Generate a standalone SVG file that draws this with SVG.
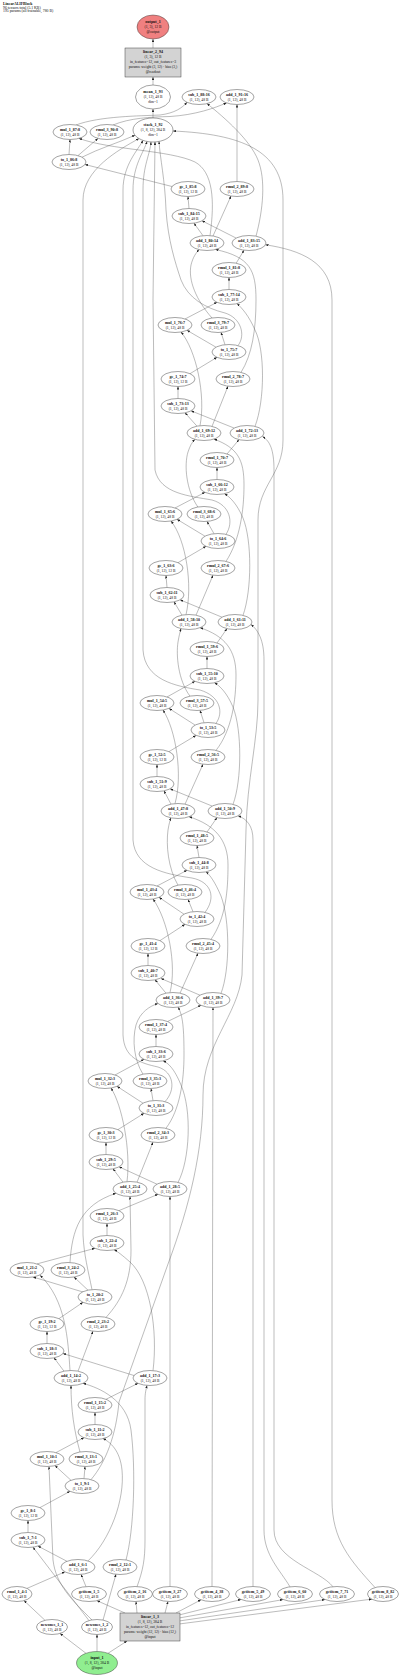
<svg xmlns="http://www.w3.org/2000/svg" width="400" height="1677" viewBox="0 0 400 1677">
<defs>
<marker id="ah" markerUnits="userSpaceOnUse" markerWidth="3.2" markerHeight="2.4" refX="3" refY="1.2" orient="auto"><path d="M0,0 L3,1.2 L0,2.4 z" fill="#222"/></marker>
<style>
.n ellipse{fill:#fff;stroke:#333;stroke-width:0.45}
.n rect{fill:#d3d3d3;stroke:#333;stroke-width:0.45}
text{font-family:"Liberation Serif","Times New Roman",serif;font-size:4px;text-anchor:middle;fill:#111}
.b{font-weight:bold}
.s{font-size:3.7px}
.t{text-anchor:start;font-size:3.8px}
#edges path{fill:none;stroke:#555;stroke-width:0.4;marker-end:url(#ah)}
</style>
</defs>
<rect width="400" height="1677" fill="#fff"/>
<g id="header">
<text x="3" y="4.6" class="t b">LinearALIFBlock</text>
<text x="3" y="8.6" class="t">96 tensors total (5.1 KB)</text>
<text x="3" y="12.4" class="t">195 params (all trainable, 780 B)</text>
</g>
<g id="edges">
<path d="M153,48 L153,39"/>
<path d="M153,85 L153,77"/>
<path d="M153,118 L153,109"/>
<path d="M229,289.5 L229,277.5"/>
<path d="M236,263.5 L244,250.2"/>
<path d="M375,1587.5 C350,1560 332,1540 332,1500 L332,300 C332,262 300,250 265.5,244.8"/>
<path d="M236,238 L202,220.8"/>
<path d="M203,235.7 L194,223.2"/>
<path d="M189,208.5 L188,196.5"/>
<path d="M172,186.5 L85,164.5"/>
<path d="M69,154.5 L70,139.5"/>
<path d="M78,155.6 L98,138.4"/>
<path d="M210,235.7 C215,200 213,172 195,162 C170,150 110,150 79,138.4"/>
<path d="M76,125 C100,116 140,116 160,115 C175,113 182,108 187,102.3"/>
<path d="M256,236.2 C263,210 266,180 258,160 C250,140 225,118 207,103.6"/>
<path d="M213,236 L231,196"/>
<path d="M237,181.5 L237,104.5"/>
<path d="M113,125 C130,118 150,117 170,116.5 C195,115 215,108 226.5,102.9"/>
<path d="M82,157.2 C100,148 118,143 135,135.2"/>
<path d="M217,479.5 L217,467.5"/>
<path d="M227,454 L239,439.6"/>
<path d="M333,1586.8 C320,1570 274,1560 274,1530 L274,470 C274,450 270,441 262.5,436.5"/>
<path d="M234,428 L191,410.8"/>
<path d="M197,426.2 L185,412.8"/>
<path d="M178,398.5 L178,386.5"/>
<path d="M190,373.7 L217,357.3"/>
<path d="M216,347.2 L187,330.3"/>
<path d="M225,344.7 L221,332.4"/>
<path d="M200,425.7 C206,395 196,350 181,332"/>
<path d="M185,319 L217,302.3"/>
<path d="M255,426.4 C265,400 265,350 255,330 C249,316 242,308 237,303.6"/>
<path d="M212,426.4 L228,386.2"/>
<path d="M241,372.4 C252,355 256,330 256,300 C256,270 250,257 215.5,249.5"/>
<path d="M212,318 C196,300 188,280 191,265 C193,257 196,253 199,249.6"/>
<path d="M238,345.6 C246,335 241,318 225,313 C205,308 188,298 181,280 C175,262 168,240 166,210 C165,180 160,158 159,141.4"/>
<path d="M207,668.5 L207,656.5"/>
<path d="M217,643 L227,628.6"/>
<path d="M290,1586.8 C280,1570 264,1555 264,1530 L264,660 C264,640 258,630 251,624.5"/>
<path d="M222,617.2 L180,599.8"/>
<path d="M182,615.2 L174,601.8"/>
<path d="M167,587.5 L166,575.5"/>
<path d="M178,562.7 L206,546.3"/>
<path d="M205,536.2 L177,519.3"/>
<path d="M214,533.7 L207,521.4"/>
<path d="M186,614.7 C193,585 186,540 171,521"/>
<path d="M175,508 L205,492.3"/>
<path d="M243,615.4 C252,590 252,540 243,518 C237,504 230,497 224.5,493.7"/>
<path d="M196,615.2 L213,575.2"/>
<path d="M226,561.4 C240,540 244,510 244,485 C244,460 238,448 214,439.1"/>
<path d="M198,507.2 C186,490 184,465 188,452 C190,446 192,442 195,439.4"/>
<path d="M226,534.4 C234,522 230,505 212,500 C190,496 160,494 155,470 L153,300 L155,141.9"/>
<path d="M199,857.5 L197,845.5"/>
<path d="M207,832 L217,817.6"/>
<path d="M253,1586.5 L253,840 C253,826 247,819 238,815.8"/>
<path d="M212,806 L170,788.8"/>
<path d="M171,804.2 L164,790.8"/>
<path d="M157,776.5 L157,764.5"/>
<path d="M169,751.6 L196,735.4"/>
<path d="M195,725 L169,708.4"/>
<path d="M204,722.7 L200,710.4"/>
<path d="M175,803.6 C183,775 176,730 163,710"/>
<path d="M167,697 L195,681.3"/>
<path d="M233,804.4 C242,780 242,730 233,707 C227,693 220,686 214.5,682.7"/>
<path d="M185,804.2 L203,764.2"/>
<path d="M216,750.4 C232,730 236,700 236,675 C236,650 225,636 200,627.7"/>
<path d="M190,696.2 C178,680 176,655 178,642 C179,636 180,632 181,628.6"/>
<path d="M216,723.4 C224,712 220,696 200,690 C175,686 145,680 143,650 L143,190 C143,165 150,155 151,141.9"/>
<path d="M156,1046.5 L156,1034.5"/>
<path d="M168,1021.3 L201,1005.3"/>
<path d="M212,1586.5 L213,1007.5"/>
<path d="M200,995.2 L161,978.5"/>
<path d="M166,993.2 L155,979.8"/>
<path d="M148,965.5 L148,953.5"/>
<path d="M160,940.6 L185,924.3"/>
<path d="M184,914.2 L159,897.3"/>
<path d="M193,911.7 L188,899.4"/>
<path d="M170,992.5 C177,965 168,920 153,899"/>
<path d="M157,886 L187,870.3"/>
<path d="M221,993.4 C230,970 230,920 221,896 C215,882 210,875 206,871.8"/>
<path d="M180,993.2 L198,953.2"/>
<path d="M211,939.4 C226,918 228,890 228,865 C228,840 215,825 189,816.7"/>
<path d="M178,885.2 C168,868 166,845 168,830 C169,824 170,820 171,817.8"/>
<path d="M205,912.4 C216,898 212,882 192,878 C165,874 135,868 133,840 L133,190 C133,165 144,152 147,141.4"/>
<path d="M107,1235.5 L107,1223.5"/>
<path d="M119,1210.6 L158,1194.3"/>
<path d="M170,1586.5 L170,1196.5"/>
<path d="M157,1184.2 L119,1166.8"/>
<path d="M123,1182.2 L113,1168.8"/>
<path d="M106,1154.5 L106,1142.5"/>
<path d="M118,1129.6 L144,1113.3"/>
<path d="M143,1103.2 L117,1086.3"/>
<path d="M153,1100.6 L151,1088.5"/>
<path d="M127,1181.6 C131,1150 122,1105 111,1088"/>
<path d="M115,1075 L144,1059.3"/>
<path d="M178,1182.4 C190,1160 192,1110 181,1085 C174,1068 168,1063 163,1060.8"/>
<path d="M137,1182.2 L153,1142.2"/>
<path d="M166,1128.2 C180,1110 184,1080 184,1055 C184,1030 183,1015 178,1007.2"/>
<path d="M143,1074.2 C134,1060 132,1040 136,1025 C140,1012 150,1006 158,1003.5"/>
<path d="M165,1101.6 C176,1090 174,1072 158,1067 C140,1063 124,1058 123,1035 L123,190 C123,165 138,150 143,140.4"/>
<path d="M95,1424.5 L95,1412.5"/>
<path d="M106,1399.3 L138,1383.3"/>
<path d="M137,1586.7 C143,1570 145,1560 145,1540 L145,1400 C145,1393 146,1390 147,1385.4"/>
<path d="M134,1375.5 L63,1353.5"/>
<path d="M64,1371.2 L54,1357.8"/>
<path d="M47,1343.5 L47,1331.5"/>
<path d="M59,1318.6 L83,1302.3"/>
<path d="M83,1292 L33,1277"/>
<path d="M88,1290.2 L74,1277"/>
<path d="M70,1370.5 C68,1340 66,1300 40,1275.2"/>
<path d="M37,1263.9 L95,1248.3"/>
<path d="M153,1370.7 C158,1330 150,1280 130,1262 C122,1255 117,1251 114,1249.8"/>
<path d="M78,1371.2 L93,1331.2"/>
<path d="M106,1317.4 C122,1300 131,1280 131,1250 L130,1196.5"/>
<path d="M70,1262.6 C72,1230 80,1205 116,1193.3"/>
<path d="M92,1289.6 C88,1270 84,1255 83,1235 L83,200 C83,170 118,150 139,138.6"/>
<path d="M45,1620.3 L24,1600.6"/>
<path d="M27,1588.4 L65,1571.8"/>
<path d="M86,1586.6 L81,1574.4"/>
<path d="M67,1561.3 L38,1546.1"/>
<path d="M89,1620.6 L33,1547.2"/>
<path d="M28,1532.5 L28,1520.5"/>
<path d="M40,1507.6 L70,1491.3"/>
<path d="M71,1480.3 L55,1465.6"/>
<path d="M84,1478.5 L85,1466.5"/>
<path d="M92,1620 C72,1600 56,1585 53,1560 L49,1466.5"/>
<path d="M56,1452.6 L84,1437.7"/>
<path d="M88,1560.9 C110,1540 125,1500 122,1470 C120,1450 110,1442 103,1438.6"/>
<path d="M103,1620.1 L116,1574.2"/>
<path d="M126,1560 C134,1530 136,1470 131,1430 C127,1400 100,1388 83,1383.3"/>
<path d="M80,1452 C74,1430 71,1410 71,1385.5"/>
<path d="M91,1479.6 C106,1462 116,1435 119,1402 L168,1264 C190,1205 203,1150 203,1095 C203,1045 238,1015 242,975 L246,830 C247,780 258,740 258,700 L258,520 C258,485 283,475 283,440 L283,200 C283,150 240,134 173,131"/>
<path d="M108,1653.3 L127,1641"/>
<path d="M86,1653.3 L60,1633.4"/>
<path d="M97,1651.5 L97,1634.5"/>
<path d="M125,1613 L97,1600.7"/>
<path d="M137,1613 L136,1601.5"/>
<path d="M165,1613 L168,1601.5"/>
<path d="M176,1613 L201,1599.8"/>
<path d="M179,1615 L241,1599.5"/>
<path d="M179,1618 L283,1599.6"/>
<path d="M179,1621 L325,1599.6"/>
<path d="M179,1624 L372,1599.1"/>
</g>
<g id="nodes">
<g id="output_1" class="n"><ellipse cx="153" cy="27" rx="16" ry="12" style="fill:#f08080"/><text x="153" y="23.4" class="b">output_1</text><text x="153" y="28.4" class="s">(1, 3), 12 B</text><text x="153" y="33.4" class="s">@output</text></g>
<g id="linear_2_94" class="n"><rect x="125" y="48" width="56" height="29"/><text x="153" y="53.4" class="b">linear_2_94</text><text x="153" y="58.4" class="s">(1, 3), 12 B</text><text x="153" y="63.4" class="s">in_features=12, out_features=3</text><text x="153" y="68.4" class="s">params: weight (3, 12) · bias (3,)</text><text x="153" y="73.4" class="s">@readout</text></g>
<g id="mean_1_93" class="n"><ellipse cx="153" cy="97" rx="17.5" ry="12"/><text x="153" y="93.4" class="b">mean_1_93</text><text x="153" y="98.4" class="s">(1, 12), 48 B</text><text x="153" y="103.4" class="s">dim=1</text></g>
<g id="stack_1_92" class="n"><ellipse cx="153" cy="130" rx="20" ry="12"/><text x="153" y="126.4" class="b">stack_1_92</text><text x="153" y="131.4" class="s">(1, 8, 12), 384 B</text><text x="153" y="136.4" class="s">dim=1</text></g>
<g id="sub_1_88" class="n"><ellipse cx="199" cy="97" rx="17" ry="7.5"/><text x="199" y="95.5" class="b">sub_1_88:16</text><text x="199" y="100.9" class="s">(1, 12), 48 B</text></g>
<g id="add_1_91" class="n"><ellipse cx="237" cy="97" rx="17" ry="7.5"/><text x="237" y="95.5" class="b">add_1_91:16</text><text x="237" y="100.9" class="s">(1, 12), 48 B</text></g>
<g id="mul_1_87" class="n"><ellipse cx="70" cy="132" rx="17" ry="7.5"/><text x="70" y="130.5" class="b">mul_1_87:8</text><text x="70" y="135.9" class="s">(1, 12), 48 B</text></g>
<g id="rmul_3_90" class="n"><ellipse cx="107" cy="132" rx="17" ry="7.5"/><text x="107" y="130.5" class="b">rmul_3_90:8</text><text x="107" y="135.9" class="s">(1, 12), 48 B</text></g>
<g id="to_1_86" class="n"><ellipse cx="69" cy="162" rx="17" ry="7.5"/><text x="69" y="160.5" class="b">to_1_86:8</text><text x="69" y="165.9" class="s">(1, 12), 48 B</text></g>
<g id="ge_1_85" class="n"><ellipse cx="188" cy="189" rx="17" ry="7.5"/><text x="188" y="187.5" class="b">ge_1_85:8</text><text x="188" y="192.9" class="s">(1, 12), 12 B</text></g>
<g id="rmul_2_89" class="n"><ellipse cx="237" cy="189" rx="17" ry="7.5"/><text x="237" y="187.5" class="b">rmul_2_89:8</text><text x="237" y="192.9" class="s">(1, 12), 48 B</text></g>
<g id="sub_1_84" class="n"><ellipse cx="189" cy="216" rx="17" ry="7.5"/><text x="189" y="214.5" class="b">sub_1_84:15</text><text x="189" y="219.9" class="s">(1, 12), 48 B</text></g>
<g id="add_1_80" class="n"><ellipse cx="207" cy="243" rx="17" ry="7.5"/><text x="207" y="241.5" class="b">add_1_80:14</text><text x="207" y="246.9" class="s">(1, 12), 48 B</text></g>
<g id="add_1_83" class="n"><ellipse cx="249" cy="243" rx="17" ry="7.5"/><text x="249" y="241.5" class="b">add_1_83:15</text><text x="249" y="246.9" class="s">(1, 12), 48 B</text></g>
<g id="rmul_1_81" class="n"><ellipse cx="229" cy="270" rx="17" ry="7.5"/><text x="229" y="268.5" class="b">rmul_1_81:8</text><text x="229" y="273.9" class="s">(1, 12), 48 B</text></g>
<g id="sub_1_77" class="n"><ellipse cx="229" cy="297" rx="17" ry="7.5"/><text x="229" y="295.5" class="b">sub_1_77:14</text><text x="229" y="300.9" class="s">(1, 12), 48 B</text></g>
<g id="mul_1_76" class="n"><ellipse cx="175" cy="325" rx="17" ry="7.5"/><text x="175" y="323.5" class="b">mul_1_76:7</text><text x="175" y="328.9" class="s">(1, 12), 48 B</text></g>
<g id="rmul_3_79" class="n"><ellipse cx="218" cy="325" rx="17" ry="7.5"/><text x="218" y="323.5" class="b">rmul_3_79:7</text><text x="218" y="328.9" class="s">(1, 12), 48 B</text></g>
<g id="to_1_75" class="n"><ellipse cx="229" cy="352" rx="17" ry="7.5"/><text x="229" y="350.5" class="b">to_1_75:7</text><text x="229" y="355.9" class="s">(1, 12), 48 B</text></g>
<g id="ge_1_74" class="n"><ellipse cx="178" cy="379" rx="17" ry="7.5"/><text x="178" y="377.5" class="b">ge_1_74:7</text><text x="178" y="382.9" class="s">(1, 12), 12 B</text></g>
<g id="rmul_2_78" class="n"><ellipse cx="233" cy="379" rx="17" ry="7.5"/><text x="233" y="377.5" class="b">rmul_2_78:7</text><text x="233" y="382.9" class="s">(1, 12), 48 B</text></g>
<g id="sub_1_73" class="n"><ellipse cx="178" cy="406" rx="17" ry="7.5"/><text x="178" y="404.5" class="b">sub_1_73:13</text><text x="178" y="409.9" class="s">(1, 12), 48 B</text></g>
<g id="add_1_69" class="n"><ellipse cx="204" cy="433" rx="17" ry="7.5"/><text x="204" y="431.5" class="b">add_1_69:12</text><text x="204" y="436.9" class="s">(1, 12), 48 B</text></g>
<g id="add_1_72" class="n"><ellipse cx="247" cy="433" rx="17" ry="7.5"/><text x="247" y="431.5" class="b">add_1_72:13</text><text x="247" y="436.9" class="s">(1, 12), 48 B</text></g>
<g id="rmul_1_70" class="n"><ellipse cx="217" cy="460" rx="17" ry="7.5"/><text x="217" y="458.5" class="b">rmul_1_70:7</text><text x="217" y="463.9" class="s">(1, 12), 48 B</text></g>
<g id="sub_1_66" class="n"><ellipse cx="217" cy="487" rx="17" ry="7.5"/><text x="217" y="485.5" class="b">sub_1_66:12</text><text x="217" y="490.9" class="s">(1, 12), 48 B</text></g>
<g id="mul_1_65" class="n"><ellipse cx="165" cy="514" rx="17" ry="7.5"/><text x="165" y="512.5" class="b">mul_1_65:6</text><text x="165" y="517.9" class="s">(1, 12), 48 B</text></g>
<g id="rmul_3_68" class="n"><ellipse cx="204" cy="514" rx="17" ry="7.5"/><text x="204" y="512.5" class="b">rmul_3_68:6</text><text x="204" y="517.9" class="s">(1, 12), 48 B</text></g>
<g id="to_1_64" class="n"><ellipse cx="218" cy="541" rx="17" ry="7.5"/><text x="218" y="539.5" class="b">to_1_64:6</text><text x="218" y="544.9" class="s">(1, 12), 48 B</text></g>
<g id="ge_1_63" class="n"><ellipse cx="166" cy="568" rx="17" ry="7.5"/><text x="166" y="566.5" class="b">ge_1_63:6</text><text x="166" y="571.9" class="s">(1, 12), 12 B</text></g>
<g id="rmul_2_67" class="n"><ellipse cx="218" cy="568" rx="17" ry="7.5"/><text x="218" y="566.5" class="b">rmul_2_67:6</text><text x="218" y="571.9" class="s">(1, 12), 48 B</text></g>
<g id="sub_1_62" class="n"><ellipse cx="167" cy="595" rx="17" ry="7.5"/><text x="167" y="593.5" class="b">sub_1_62:11</text><text x="167" y="598.9" class="s">(1, 12), 48 B</text></g>
<g id="add_1_58" class="n"><ellipse cx="189" cy="622" rx="17" ry="7.5"/><text x="189" y="620.5" class="b">add_1_58:10</text><text x="189" y="625.9" class="s">(1, 12), 48 B</text></g>
<g id="add_1_61" class="n"><ellipse cx="235" cy="622" rx="17" ry="7.5"/><text x="235" y="620.5" class="b">add_1_61:11</text><text x="235" y="625.9" class="s">(1, 12), 48 B</text></g>
<g id="rmul_1_59" class="n"><ellipse cx="207" cy="649" rx="17" ry="7.5"/><text x="207" y="647.5" class="b">rmul_1_59:6</text><text x="207" y="652.9" class="s">(1, 12), 48 B</text></g>
<g id="sub_1_55" class="n"><ellipse cx="207" cy="676" rx="17" ry="7.5"/><text x="207" y="674.5" class="b">sub_1_55:10</text><text x="207" y="679.9" class="s">(1, 12), 48 B</text></g>
<g id="mul_1_54" class="n"><ellipse cx="157" cy="703" rx="17" ry="7.5"/><text x="157" y="701.5" class="b">mul_1_54:5</text><text x="157" y="706.9" class="s">(1, 12), 48 B</text></g>
<g id="rmul_3_57" class="n"><ellipse cx="197" cy="703" rx="17" ry="7.5"/><text x="197" y="701.5" class="b">rmul_3_57:5</text><text x="197" y="706.9" class="s">(1, 12), 48 B</text></g>
<g id="to_1_53" class="n"><ellipse cx="208" cy="730" rx="17" ry="7.5"/><text x="208" y="728.5" class="b">to_1_53:5</text><text x="208" y="733.9" class="s">(1, 12), 48 B</text></g>
<g id="ge_1_52" class="n"><ellipse cx="157" cy="757" rx="17" ry="7.5"/><text x="157" y="755.5" class="b">ge_1_52:5</text><text x="157" y="760.9" class="s">(1, 12), 12 B</text></g>
<g id="rmul_2_56" class="n"><ellipse cx="208" cy="757" rx="17" ry="7.5"/><text x="208" y="755.5" class="b">rmul_2_56:5</text><text x="208" y="760.9" class="s">(1, 12), 48 B</text></g>
<g id="sub_1_51" class="n"><ellipse cx="157" cy="784" rx="17" ry="7.5"/><text x="157" y="782.5" class="b">sub_1_51:9</text><text x="157" y="787.9" class="s">(1, 12), 48 B</text></g>
<g id="add_1_47" class="n"><ellipse cx="178" cy="811" rx="17" ry="7.5"/><text x="178" y="809.5" class="b">add_1_47:8</text><text x="178" y="814.9" class="s">(1, 12), 48 B</text></g>
<g id="add_1_50" class="n"><ellipse cx="225" cy="811" rx="17" ry="7.5"/><text x="225" y="809.5" class="b">add_1_50:9</text><text x="225" y="814.9" class="s">(1, 12), 48 B</text></g>
<g id="rmul_1_48" class="n"><ellipse cx="197" cy="838" rx="17" ry="7.5"/><text x="197" y="836.5" class="b">rmul_1_48:5</text><text x="197" y="841.9" class="s">(1, 12), 48 B</text></g>
<g id="sub_1_44" class="n"><ellipse cx="199" cy="865" rx="17" ry="7.5"/><text x="199" y="863.5" class="b">sub_1_44:8</text><text x="199" y="868.9" class="s">(1, 12), 48 B</text></g>
<g id="mul_1_43" class="n"><ellipse cx="147" cy="892" rx="17" ry="7.5"/><text x="147" y="890.5" class="b">mul_1_43:4</text><text x="147" y="895.9" class="s">(1, 12), 48 B</text></g>
<g id="rmul_3_46" class="n"><ellipse cx="185" cy="892" rx="17" ry="7.5"/><text x="185" y="890.5" class="b">rmul_3_46:4</text><text x="185" y="895.9" class="s">(1, 12), 48 B</text></g>
<g id="to_1_42" class="n"><ellipse cx="197" cy="919" rx="17" ry="7.5"/><text x="197" y="917.5" class="b">to_1_42:4</text><text x="197" y="922.9" class="s">(1, 12), 48 B</text></g>
<g id="ge_1_41" class="n"><ellipse cx="148" cy="946" rx="17" ry="7.5"/><text x="148" y="944.5" class="b">ge_1_41:4</text><text x="148" y="949.9" class="s">(1, 12), 12 B</text></g>
<g id="rmul_2_45" class="n"><ellipse cx="203" cy="946" rx="17" ry="7.5"/><text x="203" y="944.5" class="b">rmul_2_45:4</text><text x="203" y="949.9" class="s">(1, 12), 48 B</text></g>
<g id="sub_1_40" class="n"><ellipse cx="148" cy="973" rx="17" ry="7.5"/><text x="148" y="971.5" class="b">sub_1_40:7</text><text x="148" y="976.9" class="s">(1, 12), 48 B</text></g>
<g id="add_1_36" class="n"><ellipse cx="173" cy="1000" rx="17" ry="7.5"/><text x="173" y="998.5" class="b">add_1_36:6</text><text x="173" y="1003.9" class="s">(1, 12), 48 B</text></g>
<g id="add_1_39" class="n"><ellipse cx="213" cy="1000" rx="17" ry="7.5"/><text x="213" y="998.5" class="b">add_1_39:7</text><text x="213" y="1003.9" class="s">(1, 12), 48 B</text></g>
<g id="rmul_1_37" class="n"><ellipse cx="156" cy="1027" rx="17" ry="7.5"/><text x="156" y="1025.5" class="b">rmul_1_37:4</text><text x="156" y="1030.9" class="s">(1, 12), 48 B</text></g>
<g id="sub_1_33" class="n"><ellipse cx="156" cy="1054" rx="17" ry="7.5"/><text x="156" y="1052.5" class="b">sub_1_33:6</text><text x="156" y="1057.9" class="s">(1, 12), 48 B</text></g>
<g id="mul_1_32" class="n"><ellipse cx="105" cy="1081" rx="17" ry="7.5"/><text x="105" y="1079.5" class="b">mul_1_32:3</text><text x="105" y="1084.9" class="s">(1, 12), 48 B</text></g>
<g id="rmul_3_35" class="n"><ellipse cx="150" cy="1081" rx="17" ry="7.5"/><text x="150" y="1079.5" class="b">rmul_3_35:3</text><text x="150" y="1084.9" class="s">(1, 12), 48 B</text></g>
<g id="to_1_31" class="n"><ellipse cx="156" cy="1108" rx="17" ry="7.5"/><text x="156" y="1106.5" class="b">to_1_31:3</text><text x="156" y="1111.9" class="s">(1, 12), 48 B</text></g>
<g id="ge_1_30" class="n"><ellipse cx="106" cy="1135" rx="17" ry="7.5"/><text x="106" y="1133.5" class="b">ge_1_30:3</text><text x="106" y="1138.9" class="s">(1, 12), 12 B</text></g>
<g id="rmul_2_34" class="n"><ellipse cx="158" cy="1135" rx="17" ry="7.5"/><text x="158" y="1133.5" class="b">rmul_2_34:3</text><text x="158" y="1138.9" class="s">(1, 12), 48 B</text></g>
<g id="sub_1_29" class="n"><ellipse cx="106" cy="1162" rx="17" ry="7.5"/><text x="106" y="1160.5" class="b">sub_1_29:5</text><text x="106" y="1165.9" class="s">(1, 12), 48 B</text></g>
<g id="add_1_25" class="n"><ellipse cx="130" cy="1189" rx="17" ry="7.5"/><text x="130" y="1187.5" class="b">add_1_25:4</text><text x="130" y="1192.9" class="s">(1, 12), 48 B</text></g>
<g id="add_1_28" class="n"><ellipse cx="170" cy="1189" rx="17" ry="7.5"/><text x="170" y="1187.5" class="b">add_1_28:5</text><text x="170" y="1192.9" class="s">(1, 12), 48 B</text></g>
<g id="rmul_1_26" class="n"><ellipse cx="107" cy="1216" rx="17" ry="7.5"/><text x="107" y="1214.5" class="b">rmul_1_26:3</text><text x="107" y="1219.9" class="s">(1, 12), 48 B</text></g>
<g id="sub_1_22" class="n"><ellipse cx="107" cy="1243" rx="17" ry="7.5"/><text x="107" y="1241.5" class="b">sub_1_22:4</text><text x="107" y="1246.9" class="s">(1, 12), 48 B</text></g>
<g id="mul_1_21" class="n"><ellipse cx="27" cy="1270" rx="17" ry="7.5"/><text x="27" y="1268.5" class="b">mul_1_21:2</text><text x="27" y="1273.9" class="s">(1, 12), 48 B</text></g>
<g id="rmul_3_24" class="n"><ellipse cx="68" cy="1270" rx="17" ry="7.5"/><text x="68" y="1268.5" class="b">rmul_3_24:2</text><text x="68" y="1273.9" class="s">(1, 12), 48 B</text></g>
<g id="to_1_20" class="n"><ellipse cx="95" cy="1297" rx="17" ry="7.5"/><text x="95" y="1295.5" class="b">to_1_20:2</text><text x="95" y="1300.9" class="s">(1, 12), 48 B</text></g>
<g id="ge_1_19" class="n"><ellipse cx="47" cy="1324" rx="17" ry="7.5"/><text x="47" y="1322.5" class="b">ge_1_19:2</text><text x="47" y="1327.9" class="s">(1, 12), 12 B</text></g>
<g id="rmul_2_23" class="n"><ellipse cx="98" cy="1324" rx="17" ry="7.5"/><text x="98" y="1322.5" class="b">rmul_2_23:2</text><text x="98" y="1327.9" class="s">(1, 12), 48 B</text></g>
<g id="sub_1_18" class="n"><ellipse cx="47" cy="1351" rx="17" ry="7.5"/><text x="47" y="1349.5" class="b">sub_1_18:3</text><text x="47" y="1354.9" class="s">(1, 12), 48 B</text></g>
<g id="add_1_14" class="n"><ellipse cx="71" cy="1378" rx="17" ry="7.5"/><text x="71" y="1376.5" class="b">add_1_14:2</text><text x="71" y="1381.9" class="s">(1, 12), 48 B</text></g>
<g id="add_1_17" class="n"><ellipse cx="150" cy="1378" rx="17" ry="7.5"/><text x="150" y="1376.5" class="b">add_1_17:3</text><text x="150" y="1381.9" class="s">(1, 12), 48 B</text></g>
<g id="rmul_1_15" class="n"><ellipse cx="95" cy="1405" rx="17" ry="7.5"/><text x="95" y="1403.5" class="b">rmul_1_15:2</text><text x="95" y="1408.9" class="s">(1, 12), 48 B</text></g>
<g id="sub_1_11" class="n"><ellipse cx="95" cy="1432" rx="17" ry="7.5"/><text x="95" y="1430.5" class="b">sub_1_11:2</text><text x="95" y="1435.9" class="s">(1, 12), 48 B</text></g>
<g id="mul_1_10" class="n"><ellipse cx="47" cy="1459" rx="17" ry="7.5"/><text x="47" y="1457.5" class="b">mul_1_10:1</text><text x="47" y="1462.9" class="s">(1, 12), 48 B</text></g>
<g id="rmul_3_13" class="n"><ellipse cx="86" cy="1459" rx="17" ry="7.5"/><text x="86" y="1457.5" class="b">rmul_3_13:1</text><text x="86" y="1462.9" class="s">(1, 12), 48 B</text></g>
<g id="to_1_9" class="n"><ellipse cx="82" cy="1486" rx="17" ry="7.5"/><text x="82" y="1484.5" class="b">to_1_9:1</text><text x="82" y="1489.9" class="s">(1, 12), 48 B</text></g>
<g id="ge_1_8" class="n"><ellipse cx="28" cy="1513" rx="17" ry="7.5"/><text x="28" y="1511.5" class="b">ge_1_8:1</text><text x="28" y="1516.9" class="s">(1, 12), 12 B</text></g>
<g id="sub_1_7" class="n"><ellipse cx="28" cy="1540" rx="17" ry="7.5"/><text x="28" y="1538.5" class="b">sub_1_7:1</text><text x="28" y="1543.9" class="s">(1, 12), 48 B</text></g>
<g id="add_1_6" class="n"><ellipse cx="78" cy="1567" rx="17" ry="7.5"/><text x="78" y="1565.5" class="b">add_1_6:1</text><text x="78" y="1570.9" class="s">(1, 12), 48 B</text></g>
<g id="rmul_2_12" class="n"><ellipse cx="120" cy="1567" rx="17" ry="7.5"/><text x="120" y="1565.5" class="b">rmul_2_12:1</text><text x="120" y="1570.9" class="s">(1, 12), 48 B</text></g>
<g id="rmul_1_4" class="n"><ellipse cx="17" cy="1594" rx="15" ry="7.5"/><text x="17" y="1592.5" class="b">rmul_1_4:1</text><text x="17" y="1597.9" class="s">(1, 12), 48 B</text></g>
<g id="getitem_1_5" class="n"><ellipse cx="89" cy="1594" rx="17.5" ry="7.5"/><text x="89" y="1592.5" class="b">getitem_1_5</text><text x="89" y="1597.9" class="s">(1, 12), 48 B</text></g>
<g id="getitem_2_16" class="n"><ellipse cx="135" cy="1594" rx="17.5" ry="7.5"/><text x="135" y="1592.5" class="b">getitem_2_16</text><text x="135" y="1597.9" class="s">(1, 12), 48 B</text></g>
<g id="getitem_3_27" class="n"><ellipse cx="170" cy="1594" rx="17.5" ry="7.5"/><text x="170" y="1592.5" class="b">getitem_3_27</text><text x="170" y="1597.9" class="s">(1, 12), 48 B</text></g>
<g id="getitem_4_38" class="n"><ellipse cx="212" cy="1594" rx="17.5" ry="7.5"/><text x="212" y="1592.5" class="b">getitem_4_38</text><text x="212" y="1597.9" class="s">(1, 12), 48 B</text></g>
<g id="getitem_5_49" class="n"><ellipse cx="253" cy="1594" rx="17.5" ry="7.5"/><text x="253" y="1592.5" class="b">getitem_5_49</text><text x="253" y="1597.9" class="s">(1, 12), 48 B</text></g>
<g id="getitem_6_60" class="n"><ellipse cx="295" cy="1594" rx="17.5" ry="7.5"/><text x="295" y="1592.5" class="b">getitem_6_60</text><text x="295" y="1597.9" class="s">(1, 12), 48 B</text></g>
<g id="getitem_7_71" class="n"><ellipse cx="337" cy="1594" rx="17.5" ry="7.5"/><text x="337" y="1592.5" class="b">getitem_7_71</text><text x="337" y="1597.9" class="s">(1, 12), 48 B</text></g>
<g id="getitem_8_82" class="n"><ellipse cx="383" cy="1594" rx="15.5" ry="7.5"/><text x="383" y="1592.5" class="b">getitem_8_82</text><text x="383" y="1597.9" class="s">(1, 12), 48 B</text></g>
<g id="newones_1_1" class="n"><ellipse cx="52" cy="1627" rx="15.5" ry="7.5"/><text x="52" y="1625.5" class="b">newones_1_1</text><text x="52" y="1630.9" class="s">(1, 12), 48 B</text></g>
<g id="newones_1_2" class="n"><ellipse cx="97" cy="1627" rx="15.5" ry="7.5"/><text x="97" y="1625.5" class="b">newones_1_2</text><text x="97" y="1630.9" class="s">(1, 12), 48 B</text></g>
<g id="linear_1_3" class="n"><rect x="120" y="1613" width="60" height="28"/><text x="150" y="1618.4" class="b">linear_1_3</text><text x="150" y="1623.4" class="s">(1, 8, 12), 384 B</text><text x="150" y="1628.4" class="s">in_features=12, out_features=12</text><text x="150" y="1633.4" class="s">params: weight (12, 12) · bias (12,)</text><text x="150" y="1638.4" class="s">@input</text></g>
<g id="input_1" class="n"><ellipse cx="97" cy="1663" rx="20.5" ry="11.5" style="fill:#90ee90"/><text x="97" y="1659.4" class="b">input_1</text><text x="97" y="1664.4" class="s">(1, 8, 12), 384 B</text><text x="97" y="1669.4" class="s">@input</text></g>
</g>
</svg>
